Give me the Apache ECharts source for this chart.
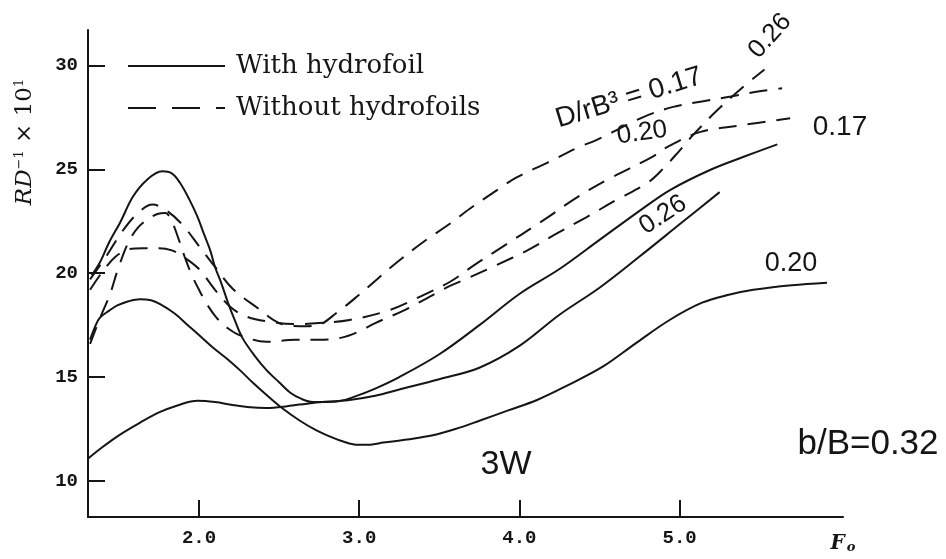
<!DOCTYPE html>
<html>
<head>
<meta charset="utf-8">
<title>RD-1 vs Fo, 3W, b/B=0.32</title>
<script src="https://cdn.jsdelivr.net/npm/echarts@6/dist/echarts.min.js"></script>
<style>
  html, body { margin: 0; padding: 0; background: #fff; }
  #chart { width: 946px; height: 559px; }
</style>
</head>
<body>
<div id="chart"></div>
<script>
// tick values
const xTicks = [2, 3, 4, 5];
const yTicks = [10, 15, 20, 25, 30];

// with hydrofoil (solid curves), [Fo, RD^-1 x 10]
const solid017 = [[1.33,19.9],[1.38,20.5],[1.44,21.5],[1.507,22.43],[1.588,23.69],[1.676,24.5],[1.77,24.9],[1.83,24.8],[1.88,24.36],[1.94,23.54],[1.99,22.72],[2.03,21.9],[2.07,21.1],[2.1,20.3],[2.14,19.5],[2.18,18.6],[2.22,17.8],[2.27,16.9],[2.35,16.0],[2.42,15.35],[2.5,14.75],[2.57,14.25],[2.64,13.95],[2.71,13.8],[2.8,13.8],[2.88,13.85],[2.95,14.0],[3.1,14.45],[3.25,15.0],[3.5,16.1],[3.75,17.5],[4.0,19.0],[4.25,20.2],[4.5,21.6],[4.75,23.0],[4.94,24.0],[5.2,25.0],[5.4,25.6],[5.61,26.2]];
const solid026 = [[1.31,11.1],[1.4,11.65],[1.5,12.2],[1.63,12.8],[1.75,13.3],[1.87,13.65],[1.99,13.86],[2.1,13.8],[2.21,13.66],[2.32,13.55],[2.42,13.52],[2.55,13.6],[2.71,13.76],[2.94,13.9],[3.1,14.1],[3.25,14.4],[3.5,14.9],[3.75,15.45],[4.0,16.5],[4.25,18.0],[4.5,19.3],[4.75,20.8],[5.0,22.35],[5.25,23.9]];
const solid020 = [[1.32,16.8],[1.35,17.4],[1.38,17.85],[1.44,18.2],[1.49,18.45],[1.56,18.65],[1.63,18.75],[1.7,18.7],[1.76,18.5],[1.85,18.05],[1.93,17.5],[2.01,16.95],[2.09,16.4],[2.18,15.85],[2.26,15.3],[2.34,14.7],[2.42,14.15],[2.52,13.5],[2.63,12.9],[2.73,12.45],[2.83,12.1],[2.9,11.9],[2.98,11.75],[3.07,11.75],[3.15,11.85],[3.3,12.0],[3.46,12.2],[3.6,12.5],[3.75,12.9],[3.93,13.4],[4.11,13.9],[4.3,14.6],[4.52,15.5],[4.73,16.65],[4.94,17.76],[5.14,18.58],[5.3,18.95],[5.46,19.2],[5.7,19.42],[5.92,19.54]];

// without hydrofoils (dashed curves)
const dashed017 = [[1.32,19.7],[1.42,20.8],[1.52,22.0],[1.62,22.9],[1.71,23.3],[1.8,23.0],[1.9,22.3],[2.0,21.3],[2.1,20.3],[2.21,19.25],[2.37,18.3],[2.5,17.6],[2.63,17.45],[2.74,17.5],[2.86,18.1],[2.99,18.9],[3.11,19.7],[3.24,20.55],[3.4,21.5],[3.57,22.4],[3.69,23.1],[3.86,24.0],[3.98,24.6],[4.17,25.3],[4.38,26.1],[4.48,26.4],[4.77,27.5],[4.96,28.0],[5.13,28.25],[5.32,28.5],[5.5,28.75],[5.64,28.9]];
const dashed020 = [[1.32,19.2],[1.4,20.1],[1.48,20.8],[1.56,21.15],[1.65,21.2],[1.75,21.2],[1.83,21.1],[1.9,20.8],[2.0,20.2],[2.1,19.2],[2.2,18.35],[2.3,17.9],[2.45,17.65],[2.6,17.55],[2.75,17.6],[2.94,17.75],[3.18,18.2],[3.38,18.87],[3.57,19.6],[3.72,20.4],[3.86,21.1],[4.16,22.6],[4.35,23.6],[4.55,24.5],[4.83,25.6],[4.93,26.1],[5.13,26.8],[5.37,27.1],[5.69,27.45]];
const dashed026 = [[1.32,16.6],[1.38,17.8],[1.445,19.0],[1.49,20.1],[1.56,21.5],[1.62,22.2],[1.68,22.6],[1.74,22.85],[1.79,22.9],[1.83,22.5],[1.87,21.7],[1.91,20.8],[1.95,20.0],[2.0,19.2],[2.05,18.5],[2.11,17.85],[2.18,17.35],[2.26,17.0],[2.42,16.7],[2.6,16.8],[2.75,16.8],[2.89,16.9],[3.0,17.2],[3.1,17.6],[3.29,18.25],[3.47,19.0],[3.57,19.4],[3.69,19.8],[3.86,20.4],[4.05,21.1],[4.22,21.85],[4.42,22.7],[4.6,23.5],[4.8,24.35],[4.9,25.05],[5.0,25.9],[5.09,26.7],[5.23,27.8],[5.38,28.85],[5.53,29.8]];

const INK = '#151515';
const WITH = 'With hydrofoil';
const WITHOUT = 'Without hydrofoils';
const DASH = [18, 11];

const curves = [
  { name: WITH, data: solid017, type: 'solid' },
  { name: WITH, data: solid026, type: 'solid' },
  { name: WITH, data: solid020, type: 'solid' },
  { name: WITHOUT, data: dashed017, type: DASH },
  { name: WITHOUT, data: dashed020, type: DASH },
  { name: WITHOUT, data: dashed026, type: DASH },
];

// curve labels and captions
const notes = [
  { text: 'D/rB³ = 0.17', x: 629, y: 98, rot: 17, size: 28 },
  { text: '0.26', x: 770, y: 36, rot: 48, size: 26 },
  { text: '0.20', x: 642, y: 133, rot: 8, size: 26 },
  { text: '0.17', x: 840, y: 127, rot: 0, size: 28 },
  { text: '0.26', x: 663, y: 215, rot: 33, size: 26 },
  { text: '0.20', x: 791, y: 264, rot: 0, size: 27 },
  { text: '3W', x: 506, y: 465, rot: 0, size: 34 },
  { text: 'b/B=0.32', x: 868, y: 444, rot: 0, size: 35 },
];

const chart = echarts.init(document.getElementById('chart'));

const series = curves.map((c) => ({
  name: c.name,
  type: 'line',
  data: c.data,
  smooth: 0.35,
  symbol: 'none',
  showSymbol: false,
  silent: true,
  lineStyle: { color: INK, width: 2, type: c.type },
  itemStyle: { color: INK },
}));

const noteElements = notes.map((n) => ({
  type: 'text',
  x: n.x,
  y: n.y,
  rotation: (n.rot * Math.PI) / 180,
  silent: true,
  style: {
    text: n.text,
    fontFamily: 'Liberation Sans',
    fontSize: n.size,
    fill: INK,
    align: 'center',
    verticalAlign: 'middle',
    textAlign: 'center',
    textVerticalAlign: 'middle',
  },
}));

const option = {
  animation: false,
  backgroundColor: '#fff',
  grid: { left: 88, right: 103, top: 30, bottom: 42 },
  legend: {
    left: 127,
    top: 53,
    padding: 0,
    orient: 'vertical',
    itemWidth: 97,
    itemHeight: 20,
    itemGap: 16,
    selectedMode: false,
    itemStyle: { opacity: 0 },
    textStyle: {
      fontFamily: 'DejaVu Serif',
      fontSize: 26,
      color: INK,
      padding: [0, 0, 0, 6],
    },
    data: [
      { name: WITH, lineStyle: { type: 'solid', width: 2 } },
      { name: WITHOUT, lineStyle: { type: [28, 16], width: 2 } },
    ],
  },
  xAxis: {
    type: 'value',
    min: 1.307,
    max: 6.02,
    splitLine: { show: false },
    axisLine: { show: true, onZero: false, lineStyle: { color: INK, width: 2 } },
    axisTick: {
      show: true,
      inside: true,
      length: 17,
      customValues: xTicks,
      lineStyle: { color: INK, width: 2 },
    },
    axisLabel: {
      customValues: xTicks,
      formatter: (v) => v.toFixed(1),
      margin: 12,
      fontFamily: 'Liberation Mono',
      fontWeight: 'bold',
      fontSize: 19,
      color: INK,
    },
  },
  yAxis: {
    type: 'value',
    min: 8.27,
    max: 31.7,
    splitLine: { show: false },
    axisLine: { show: true, onZero: false, lineStyle: { color: INK, width: 2 } },
    axisTick: {
      show: true,
      inside: true,
      length: 17,
      customValues: yTicks,
      lineStyle: { color: INK, width: 2 },
    },
    axisLabel: {
      customValues: yTicks,
      margin: 10,
      fontFamily: 'Liberation Mono',
      fontWeight: 'bold',
      fontSize: 19,
      color: INK,
    },
  },
  graphic: [
    {
      type: 'text',
      x: 25,
      y: 142,
      rotation: Math.PI / 2,
      silent: true,
      style: {
        text: '{i|RD}{s|−1} × 10{s|1}',
        fill: INK,
        align: 'center',
        verticalAlign: 'middle',
        textAlign: 'center',
        textVerticalAlign: 'middle',
        fontFamily: 'DejaVu Serif',
        fontSize: 23,
        rich: {
          i: { fontFamily: 'DejaVu Serif', fontStyle: 'italic', fontSize: 23, fill: INK },
          s: { fontFamily: 'DejaVu Serif', fontSize: 13, verticalAlign: 'top', fill: INK, padding: [0, 0, 10, 0] },
        },
      },
    },
    {
      type: 'text',
      x: 843,
      y: 544,
      silent: true,
      style: {
        text: '{f|F}{o|o}',
        fill: INK,
        align: 'center',
        verticalAlign: 'middle',
        textAlign: 'center',
        textVerticalAlign: 'middle',
        rich: {
          f: { fontFamily: 'DejaVu Serif', fontStyle: 'italic', fontWeight: 'bold', fontSize: 20, fill: INK },
          o: { fontFamily: 'DejaVu Serif', fontStyle: 'italic', fontWeight: 'bold', fontSize: 13, fill: INK, padding: [8, 0, 0, 2] },
        },
      },
    },
    ...noteElements,
  ],
  series,
};

chart.setOption(option);
</script>
</body>
</html>
